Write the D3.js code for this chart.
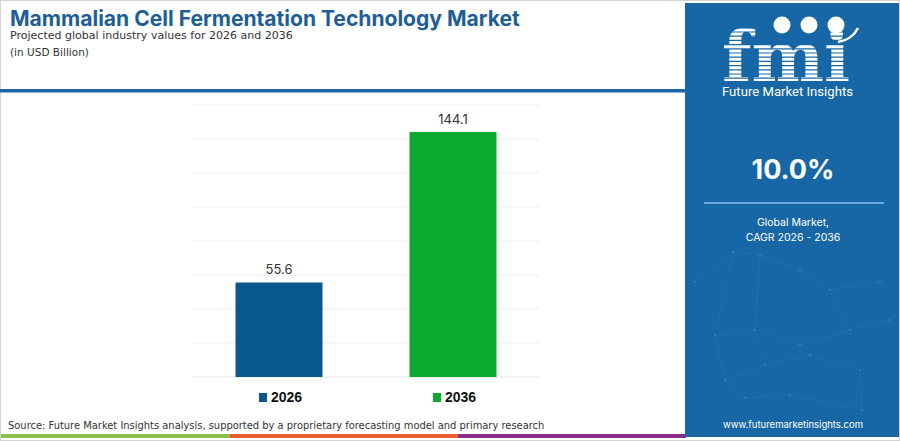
<!DOCTYPE html>
<html>
<head>
<meta charset="utf-8">
<script src="https://cdn.jsdelivr.net/npm/d3@7"></script>
<style>
  html, body { margin: 0; padding: 0; background: #fff; }
  svg { display: block; }
</style>
</head>
<body>
<div id="chart"></div>
<script>
// chart values
const years = ["2026", "2036"];
const values = [55.6, 144.1];
const barColors = ["#08588e", "#09aa2e"];
const yTicks = [0, 20, 40, 60, 80, 100, 120, 140, 160];

const titleText = "Mammalian Cell Fermentation Technology Market";
const subtitleText = "Projected global industry values for 2026 and 2036";
const unitText = "(in USD Billion)";
const sourceText = "Source: Future Market Insights analysis, supported by a proprietary forecasting model and primary research";
const cagrText = "10.0%";
const cagrLabel = ["Global Market,", "CAGR 2026 - 2036"];
const footerStripes = ["#8cc04b", "#e85d2b", "#8a2c8a"];

const W = 900, H = 441;
const svg = d3.select("#chart").append("svg")
    .attr("width", W)
    .attr("height", H);

// fit a text element to a target width by changing its font size
function fitWidth(sel, target) {
  const n = sel.node();
  const fs = parseFloat(sel.attr("font-size"));
  const w = n.getComputedTextLength();
  sel.attr("font-size", (fs * target / w).toFixed(2));
}

// outer border
svg.append("rect")
    .attr("x", 0.5).attr("y", 0.5)
    .attr("width", W - 1).attr("height", H - 1)
    .attr("fill", "#fff")
    .attr("stroke", "#d4d4d4");

// header
const title = svg.append("text")
    .attr("x", 10).attr("y", 26)
    .attr("font-family", "Inter")
    .attr("font-weight", "bold")
    .attr("font-size", 22)
    .attr("fill", "#1d5e98")
    .text(titleText);
fitWidth(title, 510);

const sub = svg.append("text")
    .attr("x", 10).attr("y", 39)
    .attr("font-family", "DejaVu Sans")
    .attr("font-size", 14)
    .attr("fill", "#333")
    .text(subtitleText);
fitWidth(sub, 283);

const unit = svg.append("text")
    .attr("x", 10).attr("y", 56)
    .attr("font-family", "DejaVu Sans")
    .attr("font-size", 14)
    .attr("fill", "#333")
    .text(unitText);
fitWidth(unit, 79);

svg.append("rect")
    .attr("x", 0).attr("y", 89)
    .attr("width", 686).attr("height", 3.5)
    .attr("fill", "#1d64a2");

// plot area
const plotLeft = 192, plotRight = 540, plotTop = 105, plotBottom = 377;

const x = d3.scaleBand()
    .domain(years)
    .range([plotLeft, plotRight])
    .padding(0);

const y = d3.scaleLinear()
    .domain([0, 160])
    .range([plotBottom, plotTop]);

// gridlines
svg.append("g")
    .selectAll("line")
    .data(yTicks)
    .join("line")
    .attr("x1", plotLeft)
    .attr("x2", plotRight)
    .attr("y1", d => y(d))
    .attr("y2", d => y(d))
    .attr("stroke", d => d === 0 ? "#e6e6e6" : "#efefef")
    .attr("stroke-width", 1.2);

const barW = x.bandwidth() * 0.5;

svg.append("g")
    .selectAll("rect")
    .data(values)
    .join("rect")
    .attr("x", (d, i) => x(years[i]) + (x.bandwidth() - barW) / 2)
    .attr("y", d => y(d))
    .attr("width", barW)
    .attr("height", d => y(0) - y(d))
    .attr("fill", (d, i) => barColors[i]);

// value labels
svg.append("g")
    .selectAll("text")
    .data(values)
    .join("text")
    .attr("x", (d, i) => x(years[i]) + x.bandwidth() / 2)
    .attr("y", d => y(d) - 8)
    .attr("text-anchor", "middle")
    .attr("font-family", "Inter")
    .attr("font-size", 13)
    .attr("fill", "#333")
    .text(d => d.toFixed(1));

// legend
const legend = svg.append("g")
    .selectAll("g")
    .data(years)
    .join("g")
    .attr("transform", (d, i) => "translate(" + (x(d) + x.bandwidth() / 2 - 20) + ",0)");

legend.append("rect")
    .attr("x", 0).attr("y", 393)
    .attr("width", 8).attr("height", 9)
    .attr("fill", (d, i) => barColors[i]);

legend.append("text")
    .attr("x", 12).attr("y", 402)
    .attr("font-family", "Liberation Sans")
    .attr("font-weight", "bold")
    .attr("font-size", 14)
    .attr("fill", "#111")
    .text(d => d);

// source
const src = svg.append("text")
    .attr("x", 8).attr("y", 429)
    .attr("font-family", "DejaVu Sans")
    .attr("font-size", 12)
    .attr("fill", "#333")
    .text(sourceText);
fitWidth(src, 537);

// footer stripes
const stripeX = d3.scaleBand()
    .domain(footerStripes)
    .range([1, 686]);

svg.append("g")
    .selectAll("rect")
    .data(footerStripes)
    .join("rect")
    .attr("x", d => stripeX(d))
    .attr("y", 434)
    .attr("width", stripeX.bandwidth())
    .attr("height", 4)
    .attr("fill", d => d);

// right panel
const panelX = 685, panelY = 3, panelW = 214, panelH = 434;
const panel = svg.append("g");

panel.append("rect")
    .attr("x", panelX).attr("y", panelY)
    .attr("width", panelW).attr("height", panelH)
    .attr("fill", "#1767a7");

// faint network decoration
const net = [[695, 282], [733, 252], [760, 255], [800, 270], [830, 290], [880, 282],
             [715, 335], [755, 330], [800, 345], [850, 330], [890, 320],
             [725, 380], [765, 365], [810, 355], [860, 370], [745, 398], [790, 395], [862, 410]];
const links = [[0, 1], [1, 2], [2, 3], [3, 4], [4, 5], [1, 6], [6, 7], [7, 8], [8, 9], [9, 10],
               [6, 11], [11, 12], [12, 13], [13, 14], [11, 15], [15, 16], [16, 17], [7, 12], [3, 8], [4, 9], [14, 17], [2, 7]];
panel.append("g")
    .selectAll("line")
    .data(links)
    .join("line")
    .attr("x1", d => net[d[0]][0]).attr("y1", d => net[d[0]][1])
    .attr("x2", d => net[d[1]][0]).attr("y2", d => net[d[1]][1])
    .attr("stroke", "#4a8cc4")
    .attr("stroke-opacity", 0.2)
    .attr("stroke-width", 0.8);
panel.append("g")
    .selectAll("circle")
    .data(net)
    .join("circle")
    .attr("cx", d => d[0]).attr("cy", d => d[1])
    .attr("r", 1.2)
    .attr("fill", "#6aa3d4")
    .attr("fill-opacity", 0.3);

// fmi logo
const clip = svg.append("defs").append("clipPath").attr("id", "stripes");
clip.selectAll("rect")
    .data(d3.range(20, 84, 4.2))
    .join("rect")
    .attr("x", 700).attr("y", d => d)
    .attr("width", 190).attr("height", 3);

const logo = panel.append("text")
    .attr("x", 722).attr("y", 81)
    .attr("font-family", "DejaVu Serif")
    .attr("font-weight", "bold")
    .attr("font-size", 80)
    .attr("fill", "#fff")
    .attr("clip-path", "url(#stripes)")
    .text("fmi");
fitWidth(logo, 128);

panel.append("g")
    .selectAll("circle")
    .data([782, 809, 836])
    .join("circle")
    .attr("cx", d => d).attr("cy", 25)
    .attr("r", 8.5)
    .attr("fill", "#fff");

panel.append("path")
    .attr("d", "M838 42 Q852 40 858 28")
    .attr("fill", "none")
    .attr("stroke", "#fff")
    .attr("stroke-width", 2.5);

const fmiName = panel.append("text")
    .attr("x", 722).attr("y", 96)
    .attr("font-family", "Roboto")
    .attr("font-size", 14)
    .attr("fill", "#fff")
    .text("Future Market Insights");
fitWidth(fmiName, 131);

panel.append("text")
    .attr("x", 793).attr("y", 179)
    .attr("text-anchor", "middle")
    .attr("font-family", "Inter")
    .attr("font-weight", "bold")
    .attr("font-size", 27)
    .attr("fill", "#fff")
    .text(cagrText);

panel.append("rect")
    .attr("x", 704).attr("y", 202)
    .attr("width", 180).attr("height", 2)
    .attr("fill", "#6aa9de");

panel.append("g")
    .selectAll("text")
    .data(cagrLabel)
    .join("text")
    .attr("x", 793)
    .attr("y", (d, i) => 226 + i * 15)
    .attr("text-anchor", "middle")
    .attr("font-family", "Inter")
    .attr("font-size", 10.5)
    .attr("fill", "#fff")
    .text(d => d);

panel.append("text")
    .attr("x", 793).attr("y", 428)
    .attr("text-anchor", "middle")
    .attr("font-family", "Inter")
    .attr("font-size", 9.5)
    .attr("fill", "#fff")
    .text("www.futuremarketinsights.com");
</script>
</body>
</html>
